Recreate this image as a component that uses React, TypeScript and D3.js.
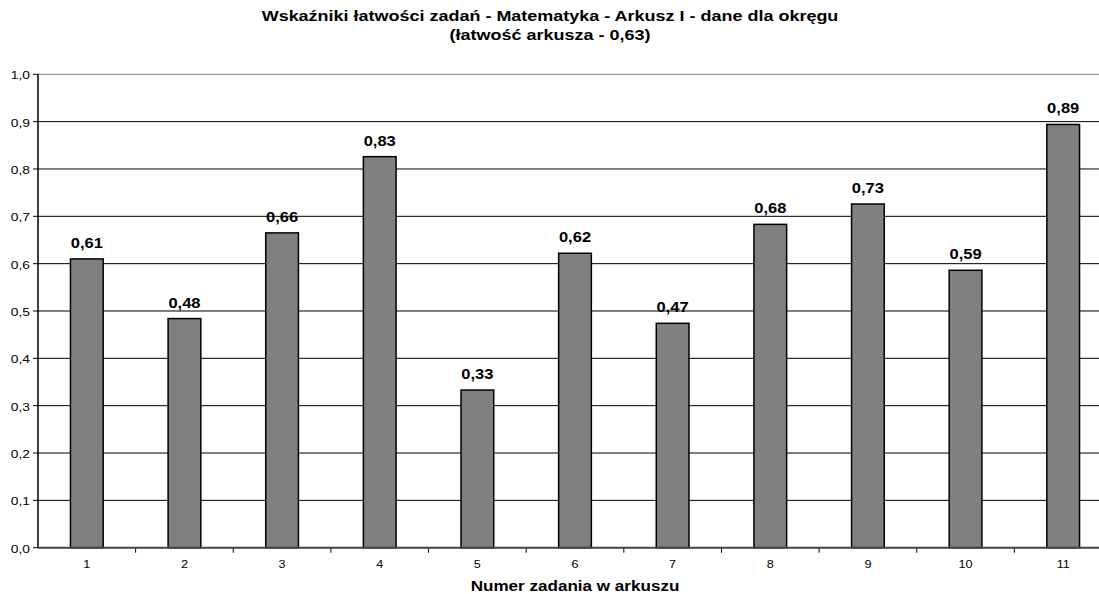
import React from "react";
import * as d3 from "d3";

const categories = ["1", "2", "3", "4", "5", "6", "7", "8", "9", "10", "11"];
const values = [0.61, 0.484, 0.665, 0.826, 0.333, 0.622, 0.474, 0.683, 0.726, 0.586, 0.894];
const labels = ["0,61", "0,48", "0,66", "0,83", "0,33", "0,62", "0,47", "0,68", "0,73", "0,59", "0,89"];
const yTicks = [0, 0.1, 0.2, 0.3, 0.4, 0.5, 0.6, 0.7, 0.8, 0.9, 1.0];
const titleLines = [
  "Wskaźniki łatwości zadań - Matematyka - Arkusz I - dane dla okręgu",
  "(łatwość arkusza - 0,63)",
];
const xTitle = "Numer zadania w arkuszu";

function T(props: { x: number; y: number; anchor?: string; size: number; bold?: boolean; sx?: number; children: React.ReactNode }) {
  const { x, y, anchor = "middle", size, bold, sx = 1.18, children } = props;
  return (
    <text
      transform={`translate(${x},${y}) scale(${sx},1)`}
      textAnchor={anchor}
      fontSize={size}
      fontWeight={bold ? "bold" : "normal"}
      fill="#000"
    >
      {children}
    </text>
  );
}

export default function App() {
  const W = 1099, H = 594;
  const left = 38, right = 1112, top = 74.3, bottom = 547.7;
  const x = d3.scaleBand<string>().domain(categories).range([left, right]).paddingInner(0.665).paddingOuter(0.3325);
  const xb = d3.scaleBand<string>().domain(categories).range([left, right]);
  const y = d3.scaleLinear().domain([0, 1]).range([bottom, top]);
  const font = "'Liberation Sans', Arial, sans-serif";
  const fmt = (v: number) => d3.format(".1f")(v).replace(".", ",");
  return (
    <svg width={W} height={H} style={{ position: "fixed", left: 0, top: 0, background: "#fff" }} fontFamily={font}>
      <rect x={0} y={0} width={W} height={H} fill="#fff" />
      {titleLines.map((t, i) => (
        <T key={i} x={550} y={21 + i * 18.5} size={14.5} bold sx={1.24}>{t}</T>
      ))}
      {yTicks.map((t) => (
        <g key={t}>
          {t > 0 && <line x1={left} x2={W} y1={y(t)} y2={y(t)} stroke={t === 1 ? "#777" : "#000"} strokeWidth={1} />}
          <line x1={left - 5} x2={left} y1={y(t)} y2={y(t)} stroke="#000" strokeWidth={1} />
          <T x={left - 8} y={y(t) + 5} anchor="end" size={11.5} sx={1.2}>{fmt(t)}</T>
        </g>
      ))}
      {categories.map((c, i) => (
        <g key={c}>
          <rect x={x(c)} y={y(values[i])} width={x.bandwidth()} height={bottom - y(values[i])} fill="#808080" stroke="#000" strokeWidth={1.5} />
          <T x={(x(c) as number) + x.bandwidth() / 2} y={y(values[i]) - 11} size={14} bold sx={1.18}>{labels[i]}</T>
          <T x={(xb(c) as number) + xb.bandwidth() / 2} y={568} size={11.5} sx={1.1}>{c}</T>
          {i > 0 && <line x1={xb(c)} x2={xb(c)} y1={bottom} y2={bottom + 5} stroke="#000" strokeWidth={1} />}
        </g>
      ))}
      <line x1={left} x2={left} y1={top} y2={bottom} stroke="#000" strokeWidth={1.5} />
      <line x1={left} x2={W} y1={bottom} y2={bottom} stroke="#444" strokeWidth={2} />
      <T x={(left + right) / 2} y={591} size={14} bold sx={1.22}>{xTitle}</T>
    </svg>
  );
}
